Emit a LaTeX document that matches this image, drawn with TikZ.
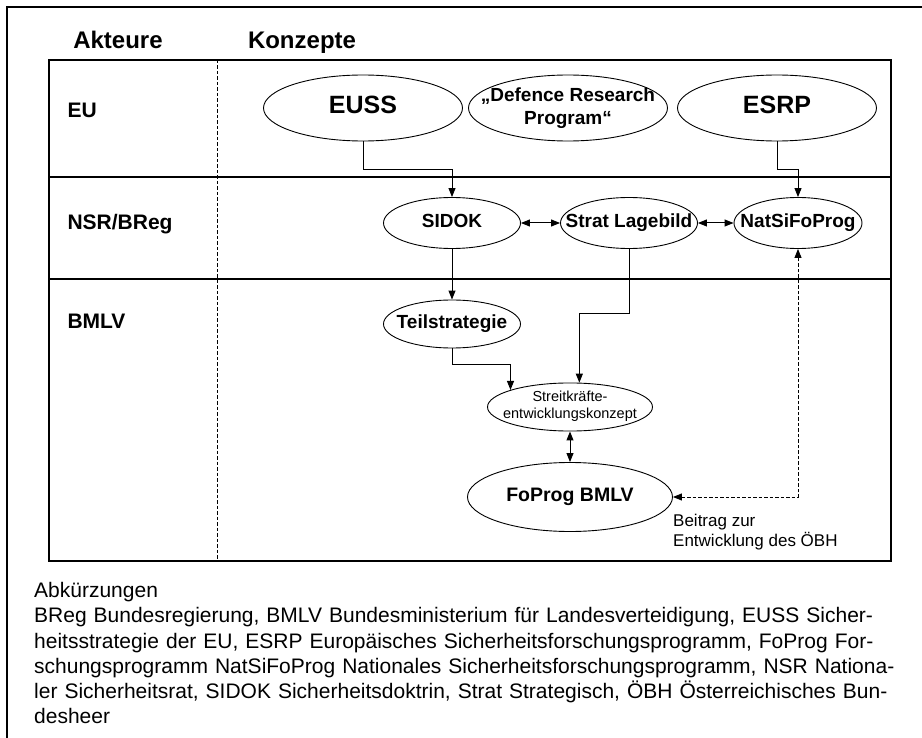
\documentclass[tikz,border=0pt]{standalone}
\usepackage{fontspec}
\setmainfont{Liberation Sans}
\usetikzlibrary{arrows.meta,shapes.geometric}

% text inside an ellipse, kept out of the shape size
\newcommand{\ctext}[1]{\makebox[0pt]{\begin{tabular}{@{}c@{}}#1\end{tabular}}}

\begin{document}
\begin{tikzpicture}[
    x=1pt, y=-1pt,
    >={Triangle[length=9pt,width=7pt]},
    header/.style={
		font=\bfseries\fontsize{24}{28}\selectfont,
		anchor=base
	},
    actor/.style={
		font=\bfseries\fontsize{21}{25}\selectfont,
		anchor=base west
	},
    concept/.style={
		ellipse,
		draw=black,
		line width=0.9pt,
		inner sep=0pt,
		minimum width=137pt,
		minimum height=51pt,
		font=\bfseries\fontsize{19}{23}\selectfont
	},
    bigconcept/.style={
		concept,
		minimum width=199pt,
		minimum height=66pt,
		font=\bfseries\fontsize{25}{30}\selectfont
	},
    flow/.style={draw, line width=1pt, ->},
    dashline/.style={dash pattern=on 3.5pt off 2pt},
    note/.style={
		font=\fontsize{17}{20}\selectfont,
		align=left,
		inner sep=0pt
	}
  ]
  \useasboundingbox (0,0) rectangle (922,738);

  % page frame
  \draw [line width=2pt] (7,738) -- (7,7) -- (922,7);

  % headers
  \node [header] (hdakt) at (118,49) {Akteure};
  \node [header] (hdkon) at (302,49) {Konzepte};

  % lanes
  \draw [line width=1.2pt] (49,60) rectangle (891,561);
  \draw [line width=1.5pt] (49,177) -- (891,177);
  \draw [line width=1.5pt] (49,279) -- (891,279);
  \draw [line width=0.8pt, dashline] (217,60) -- (217,561);

  \node [actor] (laneeu) at (64,118) {EU};
  \node [actor] (lanensr) at (64,230) {NSR/BReg};
  \node [actor] (lanebmlv) at (64,329) {BMLV};

  % concepts
  \node [bigconcept] (euss) at (363,108) {\ctext{EUSS}};
  \node [bigconcept, font=\bfseries\fontsize{19}{23}\selectfont] (drp) at (568,108)
 {\ctext{„Defence Research\\Program“}};
  \node [bigconcept] (esrp) at (777,108) {\ctext{ESRP}};

  \node [concept] (sidok) at (452,223) {\ctext{SIDOK}};
  \node [concept] (strat) at (629,223) {\ctext{Strat Lagebild}};
  \node [concept, minimum width=128pt] (natsi) at (798,223) {\ctext{NatSiFoProg}};

  \node [concept, minimum height=48pt] (teil) at (452,324) {\ctext{Teilstrategie}};
  \node [concept, minimum width=165pt, minimum height=48pt,
    font=\fontsize{14.5}{17}\selectfont] (stk) at (570,407)
 {\ctext{Streitkräfte-\\entwicklungskonzept}};
  \node [concept, minimum width=205pt, minimum height=69pt,
    font=\bfseries\fontsize{19.5}{23}\selectfont] (fop) at (570,497) {\ctext{FoProg BMLV}};

  \node [note, anchor=west] (contrib) at (673,532) {Beitrag zur\\Entwicklung des ÖBH};

  % connectors
  \draw [flow] (euss.south) -- ++(0,28) -| (sidok.north);
  \draw [flow] (esrp.south) -- ++(0,28) -| (natsi.north);
  \draw [flow, <->] (sidok.east) -- (strat.west);
  \draw [flow, <->] (strat.east) -- (natsi.west);
  \draw [flow] (sidok.south) -- (teil.north);
  \draw [flow] (teil.south) -- ++(0,16) -| (stk.164);
  \draw [flow] (strat.south) -- ++(0,65) -| (stk.69);
  \draw [flow, <->] (stk.south) -- (fop.north);
  \draw [flow, <->, dashline] (fop.east) -| (natsi.south);

  % abbreviations
  \node [inner sep=0pt, anchor=north west, text width=863pt,
    font=\fontsize{21}{25.3}\selectfont] (abbrev) at (34,582)
 {%
  \parindent=0pt\hyphenpenalty=10000\tolerance=9999
  Abkürzungen\par
  BReg Bundesregierung, BMLV Bundesministerium für Landesverteidigung, EUSS Sicher-\linebreak
  heitsstrategie der EU, ESRP Europäisches Sicherheitsforschungsprogramm, FoProg For-\linebreak
  schungsprogramm NatSiFoProg Nationales Sicherheitsforschungsprogramm, NSR Nationa-\linebreak
  ler Sicherheitsrat, SIDOK Sicherheitsdoktrin, Strat Strategisch, ÖBH Österreichisches Bun-\linebreak
  desheer
 };
\end{tikzpicture}
\end{document}
